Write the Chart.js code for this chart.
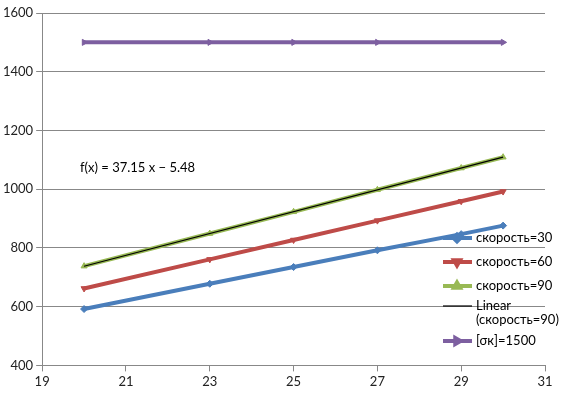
<!DOCTYPE html>
<html>
<head>
<meta charset="utf-8">
<script src="https://cdn.jsdelivr.net/npm/chart.js@4/dist/chart.umd.min.js"></script>
<style>
  html, body { margin: 0; padding: 0; background: #fff; }
  #wrap { width: 570px; height: 397px; }
</style>
</head>
<body>
<div id="wrap"><canvas id="chart" width="570" height="397"></canvas></div>
<script>
// values
const xValues = [20, 23, 25, 27, 29, 30];
const speed30 = [592, 678, 735, 792, 847, 876];
const speed60 = [662, 761, 827, 893, 959, 992];
const speed90 = [738, 849, 923, 998, 1072, 1109];
const trendX = [20, 30];
const trend90 = [737.5, 1109];
const sigmaX = [20, 23, 25, 27, 30];
const sigma = [1500, 1500, 1500, 1500, 1500];
const seriesLabels = ["скорость=30", "скорость=60", "скорость=90", "Linear (скорость=90)", "[σк]=1500"];
const fitText = "f(x) = 37.15 x − 5.48";

const FONT = 'Lato, "Noto Sans", sans-serif';

function pts(xs, ys) {
    return xs.map((x, i) => ({ x: x, y: ys[i] }));
}

const colors = ['#4a7ebb', '#be4b48', '#98b954', '#000000', '#7d5fa0'];
const styles = [
    { pointStyle: 'rectRot', rotation: 0 },
    { pointStyle: 'triangle', rotation: 180 },
    { pointStyle: 'triangle', rotation: 0 },
    { pointStyle: false, rotation: 0 },
    { pointStyle: 'triangle', rotation: 90 }
];

function makeSet(i, data, width) {
    return {
        label: seriesLabels[i],
        data: data,
        borderColor: colors[i],
        backgroundColor: colors[i],
        borderWidth: width,
        pointStyle: styles[i].pointStyle,
        rotation: styles[i].rotation,
        pointRadius: styles[i].pointStyle ? 3.5 : 0,
        pointBorderWidth: 1,
        tension: 0,
        order: i === 3 ? 0 : 1
    };
}

const datasets = [
    makeSet(0, pts(xValues, speed30), 4),
    makeSet(1, pts(xValues, speed60), 4),
    makeSet(2, pts(xValues, speed90), 4),
    makeSet(3, pts(trendX, trend90), 1.2),
    makeSet(4, pts(sigmaX, sigma), 4)
];

const extras = {
    id: 'extras',
    afterDraw(chart) {
        const ctx = chart.ctx;
        ctx.save();
        // trend equation
        ctx.font = '13px ' + FONT;
        ctx.fillStyle = '#000';
        ctx.textBaseline = 'middle';
        ctx.textAlign = 'left';
        ctx.fillText(fitText, 80, 168);

        // legend
        const rows = [238, 262, 286, 306, 341];
        chart.data.datasets.forEach((ds, i) => {
            const y = rows[i];
            ctx.strokeStyle = colors[i];
            ctx.fillStyle = colors[i];
            ctx.lineWidth = ds.borderWidth;
            ctx.beginPath();
            ctx.moveTo(443, y);
            ctx.lineTo(472, y);
            ctx.stroke();
            if (styles[i].pointStyle && Chart.helpers && Chart.helpers.drawPoint) {
                Chart.helpers.drawPoint(ctx, {
                    pointStyle: styles[i].pointStyle,
                    rotation: styles[i].rotation,
                    radius: 3.5,
                    borderWidth: 1
                }, 457, y);
            }
            ctx.fillStyle = '#000';
            ctx.font = '13px ' + FONT;
            const text = seriesLabels[i];
            if (i === 3) {
                const cut = text.indexOf(' ');
                ctx.fillText(text.slice(0, cut), 476, y);
                ctx.fillText(text.slice(cut + 1), 476, y + 14);
            } else {
                ctx.fillText(text, 476, y);
            }
        });
        ctx.restore();
    }
};

new Chart(document.getElementById('chart').getContext('2d'), {
    type: 'line',
    data: { datasets: datasets },
    options: {
        responsive: false,
        animation: false,
        layout: { padding: { top: 13, right: 25, bottom: 4, left: 0 } },
        plugins: {
            legend: { display: false },
            tooltip: { enabled: false }
        },
        scales: {
            x: {
                type: 'linear',
                min: 19,
                max: 31,
                ticks: { stepSize: 2, color: '#222', font: { family: FONT, size: 13 }, padding: 3,
                    callback: v => String(v) },
                grid: { drawOnChartArea: false, color: '#888', tickLength: 6 },
                border: { color: '#888' }
            },
            y: {
                min: 400,
                max: 1600,
                ticks: { stepSize: 200, color: '#222', font: { family: FONT, size: 13 }, padding: 3,
                    callback: v => String(v) },
                grid: { color: '#888', tickLength: 6 },
                border: { color: '#888' }
            }
        }
    },
    plugins: [extras]
});
</script>
</body>
</html>
